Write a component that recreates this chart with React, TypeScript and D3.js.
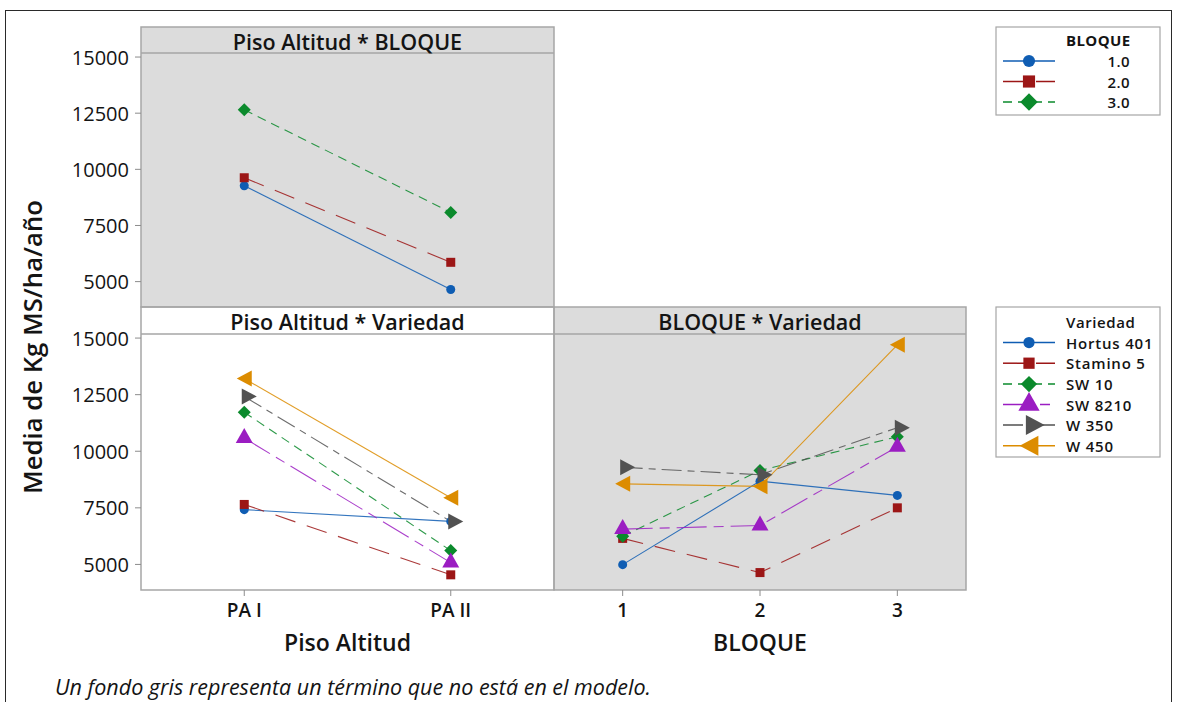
import React from 'react';
import * as d3 from 'd3';

// ---------- data ----------
const pisoLevels = ['PA I', 'PA II'];
const bloqueLevels = ['1', '2', '3'];
const bloqueLegendLabels = ['1.0', '2.0', '3.0'];
const varietyNames = ['Hortus 401', 'Stamino 5', 'SW 10', 'SW 8210', 'W 350', 'W 450'];
const yTickValues = [5000, 7500, 10000, 12500, 15000];

// Piso Altitud * BLOQUE (means for PA I, PA II)
const pisoBloque1 = [9270, 4650];
const pisoBloque2 = [9625, 5860];
const pisoBloque3 = [12650, 8080];

// Piso Altitud * Variedad (means for PA I, PA II)
const pisoHortus401 = [7420, 6900];
const pisoStamino5 = [7650, 4540];
const pisoSW10 = [11720, 5610];
const pisoSW8210 = [10580, 5080];
const pisoW350 = [12420, 6900];
const pisoW450 = [13210, 7950];

// BLOQUE * Variedad (means for bloque 1, 2, 3)
const bloqueHortus401 = [4990, 8680, 8050];
const bloqueStamino5 = [6150, 4640, 7500];
const bloqueSW10 = [6250, 9150, 10640];
const bloqueSW8210 = [6560, 6720, 10200];
const bloqueW350 = [9290, 8960, 11040];
const bloqueW450 = [8560, 8450, 14700];

const pisoBloqueSeries = [pisoBloque1, pisoBloque2, pisoBloque3];
const pisoVariedadSeries = [pisoHortus401, pisoStamino5, pisoSW10, pisoSW8210, pisoW350, pisoW450];
const bloqueVariedadSeries = [bloqueHortus401, bloqueStamino5, bloqueSW10, bloqueSW8210, bloqueW350, bloqueW450];

// ---------- styles ----------
const seriesStyles = [
  { color: '#0f5db3', dash: null as string | null, shape: 'circle' },
  { color: '#9c1616', dash: '21,12', shape: 'square' },
  { color: '#0b8a2c', dash: '9,6', shape: 'diamond' },
  { color: '#9b1dc2', dash: '30,7,10,7', shape: 'triUp' },
  { color: '#525252', dash: '20,6,7,6', shape: 'triRight' },
  { color: '#dc8c00', dash: null as string | null, shape: 'triLeft' },
];

const FONT = "'Open Sans', 'Noto Sans', sans-serif";
const TEXT = '#141414';
const PANEL_GREY = '#dcdcdc';
const BORDER = '#a6a6a6';

function Marker({ shape, x, y, color, k = 1 }: { shape: string; x: number; y: number; color: string; k?: number }) {
  let d = '';
  if (shape === 'circle') {
    return <circle cx={x} cy={y} r={4.5 * k} fill={color} />;
  } else if (shape === 'square') {
    const s = 4.5 * k;
    d = `M${-s},${-s}L${s},${-s}L${s},${s}L${-s},${s}Z`;
  } else if (shape === 'diamond') {
    const s = 6.5 * k;
    d = `M0,${-s}L${s},0L0,${s}L${-s},0Z`;
  } else if (shape === 'triUp') {
    d = `M0,${-10 * k}L${8.5 * k},${5 * k}L${-8.5 * k},${5 * k}Z`;
  } else if (shape === 'triRight') {
    d = `M${-2.5 * k},${-8 * k}L${12.5 * k},0L${-2.5 * k},${8 * k}Z`;
  } else if (shape === 'triLeft') {
    d = `M${-7.5 * k},0L${7.5 * k},${-8 * k}L${7.5 * k},${8 * k}Z`;
  }
  return <path d={d} transform={`translate(${x},${y})`} fill={color} />;
}

// ---------- layout ----------
const LEFT = 141;
const MID = 554;
const RIGHT = 966;
const TOP = 27;
const ROWSPLIT = 307;
const BOTTOM = 590;
const STRIP = 26;

export default function App() {
  const yTop = d3.scaleLinear().domain([3870, 15180]).range([ROWSPLIT, TOP + STRIP]);
  const yBot = d3.scaleLinear().domain([3870, 15180]).range([BOTTOM, ROWSPLIT + STRIP + 1]);
  const xPiso = d3.scalePoint<string>().domain(pisoLevels).range([LEFT, MID]).padding(0.5);
  const xBloque = d3.scalePoint<string>().domain(bloqueLevels).range([MID, RIGHT]).padding(0.5);

  const renderSeries = (
    series: number[][],
    cats: string[],
    xs: d3.ScalePoint<string>,
    ys: d3.ScaleLinear<number, number>,
    key: string
  ) => {
    const line = d3
      .line<number>()
      .x((_, i) => xs(cats[i]) as number)
      .y((v) => ys(v));
    return (
      <g key={key}>
        {series.map((vals, si) => (
          <path
            key={`l${si}`}
            d={line(vals) || ''}
            fill="none"
            stroke={seriesStyles[si].color}
            strokeWidth={1.1}
            strokeDasharray={seriesStyles[si].dash || undefined}
            opacity={0.85}
          />
        ))}
        {series.map((vals, si) =>
          vals.map((v, i) => (
            <Marker
              key={`m${si}-${i}`}
              shape={seriesStyles[si].shape}
              x={xs(cats[i]) as number}
              y={ys(v)}
              color={seriesStyles[si].color}
            />
          ))
        )}
      </g>
    );
  };

  const yAxis = (ys: d3.ScaleLinear<number, number>, key: string) => (
    <g key={key}>
      {yTickValues.map((t) => (
        <g key={t}>
          <line x1={LEFT - 6} x2={LEFT} y1={ys(t)} y2={ys(t)} stroke="#8c8c8c" strokeWidth={1} />
          <text
            x={LEFT - 12}
            y={ys(t)}
            textAnchor="end"
            dominantBaseline="central"
            fontFamily={FONT}
            fontSize={20}
            fontWeight={500}
            fill={TEXT}
          >
            {t}
          </text>
        </g>
      ))}
    </g>
  );

  const legendLine = (x1: number, x2: number, y: number, si: number, k: number, key: string) => (
    <g key={key}>
      <line
        x1={x1}
        x2={x2}
        y1={y}
        y2={y}
        stroke={seriesStyles[si].color}
        strokeWidth={1.5}
        strokeDasharray={seriesStyles[si].dash || undefined}
      />
      <Marker shape={seriesStyles[si].shape} x={(x1 + x2) / 2} y={y} color={seriesStyles[si].color} k={k} />
    </g>
  );

  const legend1Y = [61, 81.5, 102];
  const legend2Y = [342.5, 363.2, 384, 404.5, 425, 445.7];

  return (
    <svg
      width={1177}
      height={702}
      style={{ position: 'absolute', left: 0, top: 0, background: '#fff' }}
      fontFamily={FONT}
    >
      {/* outer frame */}
      <rect x={5.5} y={10.5} width={1166} height={760} fill="none" stroke="#2a2a2a" strokeWidth={1} />

      {/* panel backgrounds */}
      <rect x={LEFT} y={TOP} width={MID - LEFT} height={ROWSPLIT - TOP} fill={PANEL_GREY} />
      <rect x={LEFT} y={ROWSPLIT} width={MID - LEFT} height={BOTTOM - ROWSPLIT} fill="#ffffff" />
      <rect x={MID} y={ROWSPLIT} width={RIGHT - MID} height={BOTTOM - ROWSPLIT} fill={PANEL_GREY} />

      {/* strips */}
      <line x1={LEFT} x2={MID} y1={TOP + STRIP} y2={TOP + STRIP} stroke={BORDER} strokeWidth={1.5} />
      <line x1={LEFT} x2={RIGHT} y1={ROWSPLIT + STRIP + 1} y2={ROWSPLIT + STRIP + 1} stroke={BORDER} strokeWidth={1.5} />

      {/* panel borders */}
      <rect x={LEFT} y={TOP} width={MID - LEFT} height={ROWSPLIT - TOP} fill="none" stroke={BORDER} strokeWidth={1.5} />
      <rect x={LEFT} y={ROWSPLIT} width={MID - LEFT} height={BOTTOM - ROWSPLIT} fill="none" stroke={BORDER} strokeWidth={1.5} />
      <rect x={MID} y={ROWSPLIT} width={RIGHT - MID} height={BOTTOM - ROWSPLIT} fill="none" stroke={BORDER} strokeWidth={1.5} />

      {/* panel titles */}
      <text x={(LEFT + MID) / 2} y={TOP + STRIP / 2 + 1} textAnchor="middle" dominantBaseline="central" fontSize={21.5} fontWeight={600} fill={TEXT}>
        Piso Altitud * BLOQUE
      </text>
      <text x={(LEFT + MID) / 2} y={ROWSPLIT + STRIP / 2 + 1} textAnchor="middle" dominantBaseline="central" fontSize={21.5} fontWeight={600} fill={TEXT}>
        Piso Altitud * Variedad
      </text>
      <text x={(MID + RIGHT) / 2} y={ROWSPLIT + STRIP / 2 + 1} textAnchor="middle" dominantBaseline="central" fontSize={21.5} fontWeight={600} fill={TEXT}>
        BLOQUE * Variedad
      </text>

      {/* y axes */}
      {yAxis(yTop, 'yt')}
      {yAxis(yBot, 'yb')}

      {/* x axes */}
      {pisoLevels.map((c) => (
        <g key={c}>
          <line x1={xPiso(c)} x2={xPiso(c)} y1={BOTTOM} y2={BOTTOM + 6} stroke="#8c8c8c" />
          <text x={xPiso(c)} y={610} textAnchor="middle" dominantBaseline="central" fontSize={19} fontWeight={600} fill={TEXT}>
            {c}
          </text>
        </g>
      ))}
      {bloqueLevels.map((c) => (
        <g key={c}>
          <line x1={xBloque(c)} x2={xBloque(c)} y1={BOTTOM} y2={BOTTOM + 6} stroke="#8c8c8c" />
          <text x={xBloque(c)} y={610} textAnchor="middle" dominantBaseline="central" fontSize={19} fontWeight={600} fill={TEXT}>
            {c}
          </text>
        </g>
      ))}
      <text x={(LEFT + MID) / 2} y={642} textAnchor="middle" dominantBaseline="central" fontSize={23} fontWeight={600} fill={TEXT}>
        Piso Altitud
      </text>
      <text x={(MID + RIGHT) / 2} y={642} textAnchor="middle" dominantBaseline="central" fontSize={23} fontWeight={600} fill={TEXT}>
        BLOQUE
      </text>

      {/* y title */}
      <text
        transform="translate(32,347) rotate(-90)"
        textAnchor="middle"
        dominantBaseline="central"
        fontSize={25.7}
        fontWeight={600}
        fill={TEXT}
      >
        Media de Kg MS/ha/año
      </text>

      {/* data */}
      {renderSeries(pisoBloqueSeries, pisoLevels, xPiso, yTop, 'pb')}
      {renderSeries(pisoVariedadSeries, pisoLevels, xPiso, yBot, 'pv')}
      {renderSeries(bloqueVariedadSeries, bloqueLevels, xBloque, yBot, 'bv')}

      {/* legend 1 */}
      <rect x={996} y={27} width={164} height={88} fill="#fff" stroke={BORDER} strokeWidth={1.2} />
      <text x={1066} y={40} dominantBaseline="central" fontSize={15} fontWeight={700} letterSpacing={0.4} fill={TEXT}>
        BLOQUE
      </text>
      {bloqueLegendLabels.map((lab, i) => (
        <g key={lab}>
          {legendLine(1003, 1055, legend1Y[i], i, 1.35, `ll${i}`)}
          <text x={1130} y={legend1Y[i]} textAnchor="end" dominantBaseline="central" fontSize={15} fontWeight={600} letterSpacing={0.4} fill={TEXT}>
            {lab}
          </text>
        </g>
      ))}

      {/* legend 2 */}
      <rect x={996} y={307} width={164} height={150} fill="#fff" stroke={BORDER} strokeWidth={1.2} />
      <text x={1066} y={321.5} dominantBaseline="central" fontSize={15} fontWeight={600} letterSpacing={0.6} fill={TEXT}>
        Variedad
      </text>
      {varietyNames.map((lab, i) => (
        <g key={lab}>
          {legendLine(1003, 1055, legend2Y[i], i, 1.25, `lv${i}`)}
          <text x={1066} y={legend2Y[i]} dominantBaseline="central" fontSize={15} fontWeight={600} letterSpacing={0.8} fill={TEXT}>
            {lab}
          </text>
        </g>
      ))}

      {/* footnote */}
      <text x={55} y={695} fontSize={21.5} fontStyle="italic" fill={TEXT}>
        Un fondo gris representa un término que no está en el modelo.
      </text>
    </svg>
  );
}
